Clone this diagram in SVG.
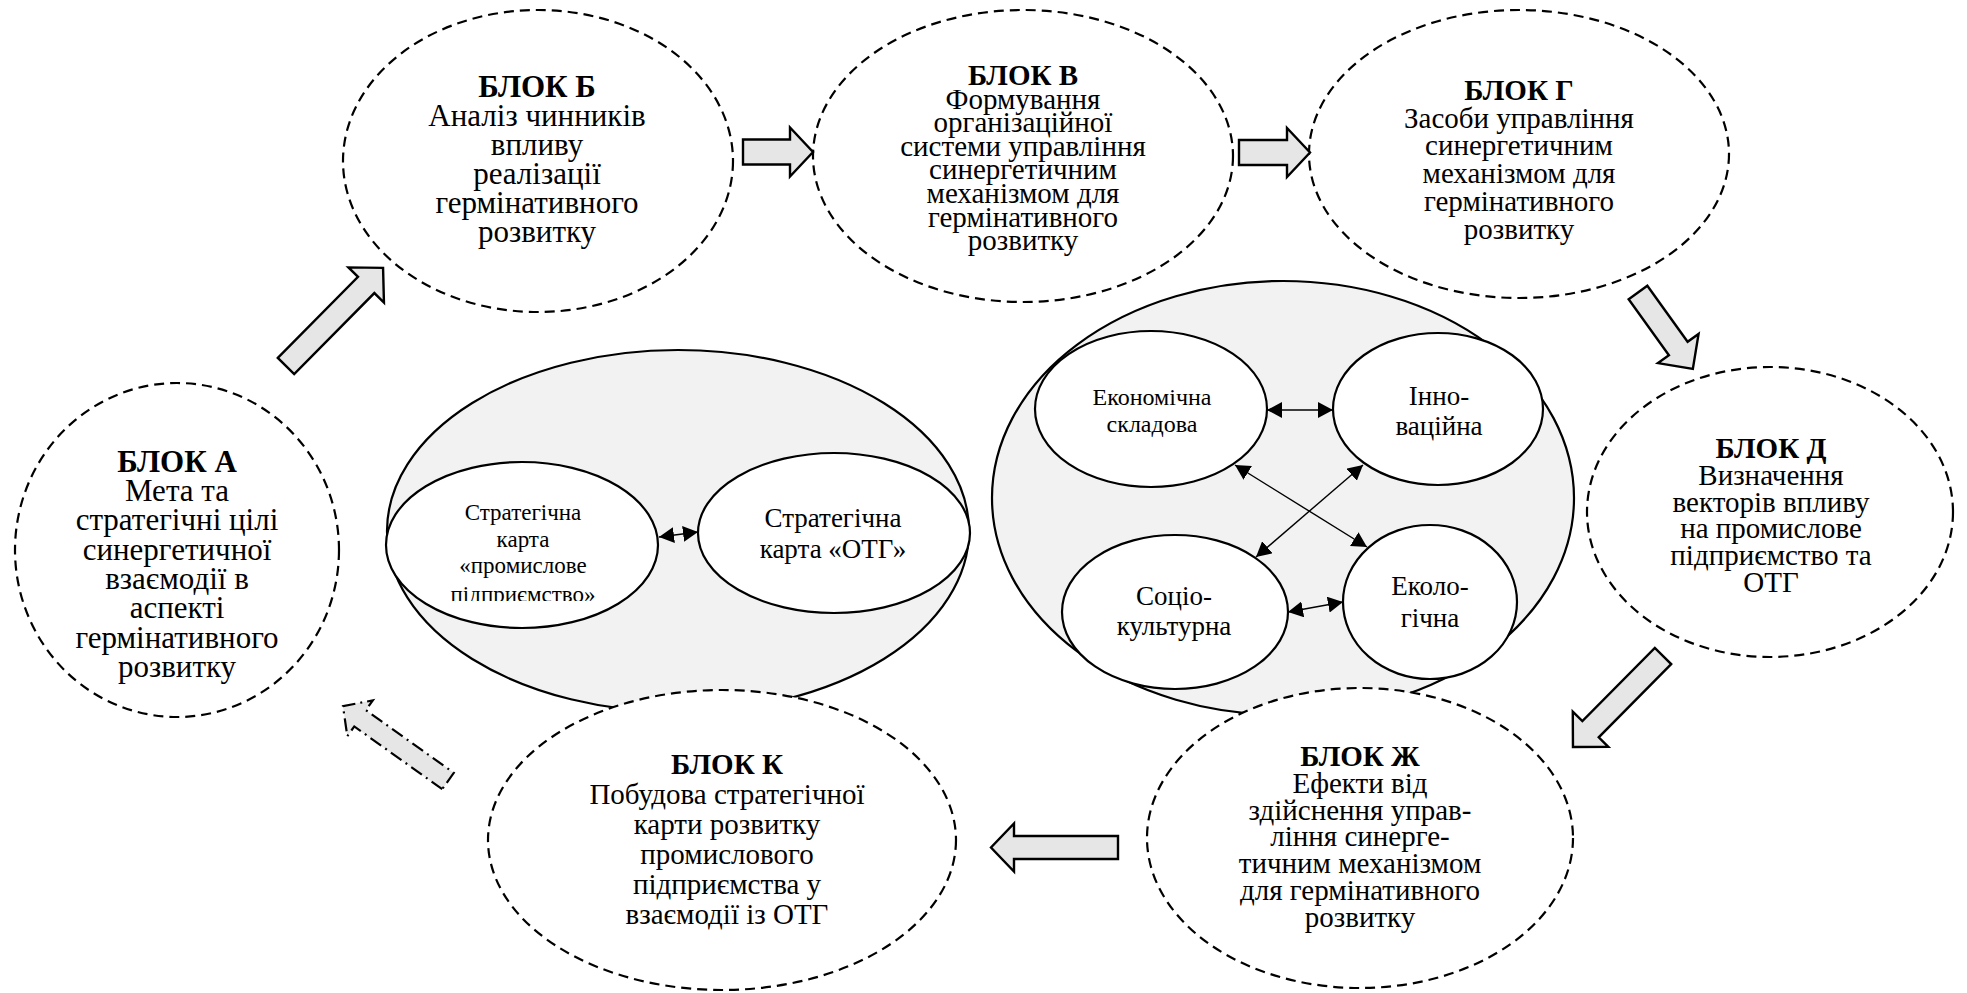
<svg xmlns="http://www.w3.org/2000/svg" width="1967" height="993" viewBox="0 0 1967 993">
<defs>
<style>
.blk{fill:#ffffff;stroke:#000;stroke-width:2.2;stroke-dasharray:10 6}
.grp{fill:#f2f2f2;stroke:#000;stroke-width:2.2}
.inn{fill:#ffffff;stroke:#000;stroke-width:2.2}
.bar{fill:#e6e6e6;stroke:#000;stroke-width:2.4;stroke-linejoin:miter}
.bard{fill:#e6e6e6;stroke:#000;stroke-width:2.2;stroke-dasharray:13 5 2 5}
.t{font-family:"Liberation Serif","Times New Roman",serif;text-anchor:middle;fill:#000}
.b{font-weight:bold}
.f31{font-size:31px}
.f29{font-size:29px}
.lnk{stroke:#000;stroke-width:1.4;fill:none;marker-start:url(#ah);marker-end:url(#ah)}
</style>
<marker id="ah" markerUnits="userSpaceOnUse" markerWidth="16" markerHeight="16" refX="15" refY="8" orient="auto-start-reverse">
<path d="M0,0 L15,8 L0,16 z" fill="#000"/>
</marker>
<clipPath id="cutL"><rect x="380" y="440" width="300" height="161"/></clipPath>
</defs>

<!-- container ellipses -->
<g id="maps-group">
<ellipse class="grp" cx="678" cy="531" rx="291" ry="181"/>
</g>
<g id="components-group">
<ellipse class="grp" cx="1283" cy="498" rx="291" ry="217"/>
</g>

<g id="map-enterprise">
<ellipse class="inn" cx="522" cy="545" rx="136" ry="83"/>
<text class="t" style="font-size:23px" clip-path="url(#cutL)"><tspan x="523" y="520">Стратегічна</tspan><tspan x="523" y="547">карта</tspan><tspan x="523" y="573">«промислове</tspan><tspan x="523" y="602">підприємство»</tspan></text>
</g>
<g id="map-otg">
<ellipse class="inn" cx="834" cy="533" rx="136" ry="80"/>
<text class="t" style="font-size:27px"><tspan x="833" y="527">Стратегічна</tspan><tspan x="833" y="558">карта «ОТГ»</tspan></text>
</g>

<g id="economic">
<ellipse class="inn" cx="1151" cy="409" rx="116" ry="78"/>
<text class="t" style="font-size:24px"><tspan x="1152" y="405">Економічна</tspan><tspan x="1152" y="432">складова</tspan></text>
</g>
<g id="innovative">
<ellipse class="inn" cx="1438" cy="409" rx="105" ry="76"/>
<text class="t" style="font-size:27px"><tspan x="1439" y="405">Інно-</tspan><tspan x="1439" y="435">ваційна</tspan></text>
</g>
<g id="sociocultural">
<ellipse class="inn" cx="1175" cy="612" rx="113" ry="77"/>
<text class="t" style="font-size:27px"><tspan x="1174" y="605">Соціо-</tspan><tspan x="1174" y="635">культурна</tspan></text>
</g>
<g id="ecological">
<ellipse class="inn" cx="1430" cy="602" rx="87" ry="77"/>
<text class="t" style="font-size:27px"><tspan x="1430" y="595">Еколо-</tspan><tspan x="1430" y="627">гічна</tspan></text>
</g>

<!-- blocks -->
<g id="block-a">
<ellipse class="blk" cx="177" cy="550" rx="162" ry="167"/>
<text class="t f31"><tspan class="b" x="177" y="472">БЛОК А</tspan><tspan x="177" y="501">Мета та</tspan><tspan x="177" y="530">стратегічні цілі</tspan><tspan x="177" y="560">синергетичної</tspan><tspan x="177" y="589">взаємодії в</tspan><tspan x="177" y="618">аспекті</tspan><tspan x="177" y="648">гермінативного</tspan><tspan x="177" y="677">розвитку</tspan></text>
</g>
<g id="block-b">
<ellipse class="blk" cx="538" cy="161" rx="195" ry="151"/>
<text class="t f31"><tspan class="b" x="537" y="97">БЛОК Б</tspan><tspan x="537" y="126">Аналіз чинників</tspan><tspan x="537" y="155">впливу</tspan><tspan x="537" y="184">реалізації</tspan><tspan x="537" y="213">гермінативного</tspan><tspan x="537" y="242">розвитку</tspan></text>
</g>
<g id="block-v">
<ellipse class="blk" cx="1023" cy="156" rx="210" ry="146"/>
<text class="t f29"><tspan class="b" x="1023" y="85">БЛОК В</tspan><tspan x="1023" y="108.6">Формування</tspan><tspan x="1023" y="132.2">організаційної</tspan><tspan x="1023" y="155.8">системи управління</tspan><tspan x="1023" y="179.4">синергетичним</tspan><tspan x="1023" y="203">механізмом для</tspan><tspan x="1023" y="226.6">гермінативного</tspan><tspan x="1023" y="250.2">розвитку</tspan></text>
</g>
<g id="block-g">
<ellipse class="blk" cx="1519" cy="154" rx="210" ry="144"/>
<text class="t f29"><tspan class="b" x="1519" y="100">БЛОК Г</tspan><tspan x="1519" y="127.7">Засоби управління</tspan><tspan x="1519" y="155.4">синергетичним</tspan><tspan x="1519" y="183.1">механізмом для</tspan><tspan x="1519" y="210.8">гермінативного</tspan><tspan x="1519" y="238.5">розвитку</tspan></text>
</g>
<g id="block-d">
<ellipse class="blk" cx="1770" cy="512" rx="183" ry="145"/>
<text class="t f29"><tspan class="b" x="1771" y="458">БЛОК Д</tspan><tspan x="1771" y="484.8">Визначення</tspan><tspan x="1771" y="511.6">векторів впливу</tspan><tspan x="1771" y="538.4">на промислове</tspan><tspan x="1771" y="565.2">підприємство та</tspan><tspan x="1771" y="592">ОТГ</tspan></text>
</g>
<g id="block-zh">
<ellipse class="blk" cx="1360" cy="838" rx="213" ry="150"/>
<text class="t f29"><tspan class="b" x="1360" y="766">БЛОК Ж</tspan><tspan x="1360" y="792.8">Ефекти від</tspan><tspan x="1360" y="819.6">здійснення управ-</tspan><tspan x="1360" y="846.4">ління синерге-</tspan><tspan x="1360" y="873.2">тичним механізмом</tspan><tspan x="1360" y="900">для гермінативного</tspan><tspan x="1360" y="926.8">розвитку</tspan></text>
</g>
<g id="block-k">
<ellipse class="blk" cx="722" cy="840" rx="234" ry="150"/>
<text class="t f29"><tspan class="b" x="727" y="774">БЛОК К</tspan><tspan x="727" y="804">Побудова стратегічної</tspan><tspan x="727" y="834">карти розвитку</tspan><tspan x="727" y="864">промислового</tspan><tspan x="727" y="894">підприємства у</tspan><tspan x="727" y="924">взаємодії із ОТГ</tspan></text>
</g>

<g id="connectors">
<path class="bar" transform="translate(286,366) rotate(-45.3)" d="M0,-11.5 L114,-11.5 L114,-25 L138,0 L114,25 L114,11.5 L0,11.5 Z"/>
<path class="bar" transform="translate(743,152)" d="M0,-12.5 L47,-12.5 L47,-24.5 L70,0 L47,24.5 L47,12.5 L0,12.5 Z"/>
<path class="bar" transform="translate(1239,152.5)" d="M0,-12.5 L48,-12.5 L48,-24.5 L71,0 L48,24.5 L48,12.5 L0,12.5 Z"/>
<path class="bar" transform="translate(1638,292.5) rotate(54.3)" d="M0,-11.5 L69,-11.5 L69,-25 L94,0 L69,25 L69,11.5 L0,11.5 Z"/>
<path class="bar" transform="translate(1663,656) rotate(134.7)" d="M0,-11.5 L103,-11.5 L103,-25 L128,0 L103,25 L103,11.5 L0,11.5 Z"/>
<path class="bar" transform="translate(1118,847.5) rotate(180)" d="M0,-11.5 L104,-11.5 L104,-24 L127,0 L104,24 L104,11.5 L0,11.5 Z"/>
<path class="bard" transform="translate(448,781) rotate(215.5)" d="M0,-10 L108,-10 L108,-22 L129,0 L108,22 L108,10 L0,10 Z"/>
<line class="lnk" x1="659" y1="537" x2="698" y2="532"/>
<line class="lnk" x1="1267" y1="410" x2="1333" y2="410"/>
<line class="lnk" x1="1235" y1="465" x2="1367" y2="547"/>
<line class="lnk" x1="1363" y1="465" x2="1256" y2="557"/>
<line class="lnk" x1="1288" y1="612" x2="1343" y2="602"/>
</g>
</svg>
